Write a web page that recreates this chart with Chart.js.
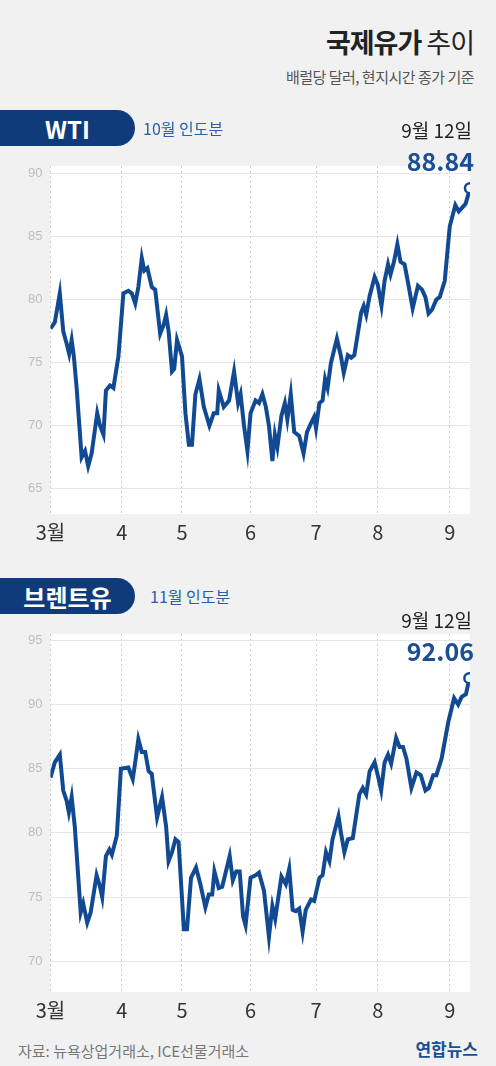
<!DOCTYPE html>
<html>
<head>
<meta charset="utf-8">
<script src="https://cdn.jsdelivr.net/npm/chart.js@4"></script>
<style>
body { margin: 0; width: 496px; height: 1066px; background: #f1f1f1; font-family: "Noto Sans CJK KR", "Noto Sans", sans-serif; overflow: hidden; }
.abs { position: absolute; z-index: 2; }
.chartBox { position: absolute; z-index: 1; }
.title { right: 22px; top: 22px; font-size: 27px; color: #222; letter-spacing: -1px; }
.title b { font-weight: 700; }
.title span { font-weight: 400; }
.sub { right: 22px; top: 66px; font-size: 15px; color: #555; letter-spacing: -0.5px; }
.badge { left: 0; width: 135px; height: 36px; background: #0f3b7a; color: #fff; font-weight: 700; font-size: 24px; border-radius: 0 18px 18px 0; display: flex; align-items: center; justify-content: center; }
.deliv { font-size: 16px; color: #2b5fa8; }
.date { right: 24px; font-size: 19px; color: #222; }
.val { right: 22px; font-size: 25px; font-weight: 700; color: #1a4f94; }
.foot { left: 18px; top: 1040px; font-size: 15px; color: #777; }
.logo { right: 18px; top: 1036px; font-size: 17px; font-weight: 700; color: #1a4f94; }
</style>
</head>
<body>
<div class="abs title"><b>국제유가</b> <span>추이</span></div>
<div class="abs sub">배럴당 달러, 현지시간 종가 기준</div>

<div class="abs badge" style="top:110px">WTI</div>
<div class="abs deliv" style="left:143px;top:116px">10월 인도분</div>
<div class="abs date" style="top:116px">9월 12일</div>
<div class="abs val" style="top:142px">88.84</div>
<div class="chartBox" style="left:0;top:150px;width:496px;height:400px"><canvas id="wtiChart"></canvas></div>

<div class="abs badge" style="top:578px">브렌트유</div>
<div class="abs deliv" style="left:150px;top:584px">11월 인도분</div>
<div class="abs date" style="top:606px">9월 12일</div>
<div class="abs val" style="top:632px">92.06</div>
<div class="chartBox" style="left:0;top:618px;width:496px;height:410px"><canvas id="brentChart"></canvas></div>

<div class="abs foot">자료: 뉴욕상업거래소, ICE선물거래소</div>
<div class="abs logo">연합뉴스</div>

<script>
// 거래일 인덱스 (3월 1일 = 0)
const monthLabels = ['3월', '4', '5', '6', '7', '8', '9'];
const monthTicks = [0, 22.9, 42.2, 64.2, 85.2, 105, 128.1];

const wtiDays = [0,1.4,3.0,4.1,5.2,6.0,6.8,7.5,8.4,10.0,11.1,12.1,13.2,15.0,15.9,17.0,17.8,19.1,20.2,21.8,23.4,25.0,26.1,27.2,28.2,29.3,30.1,31.1,32.5,33.6,35.2,36.3,37.1,37.9,39.0,39.7,40.6,42.2,43.3,44.4,45.4,46.5,47.8,49.2,51.0,52.4,53.5,54.0,55.6,57.3,58.9,60.2,61.0,62.1,63.2,64.2,65.8,66.9,68.0,69.1,70.1,71.2,72.0,72.8,74.1,75.2,76.0,77.1,78.2,79.8,81.2,82.3,83.6,84.6,85.2,86.3,87.3,88.1,88.9,90.0,91.9,93.2,94.1,95.4,96.5,97.5,99.7,100.5,101.3,102.4,104.0,105.0,106.2,107.2,108.3,109.1,110.2,111.3,112.3,113.6,114.6,116.2,117.9,119.2,120.3,121.3,122.4,123.8,124.9,126.5,128.1,129.9,131.0,132.1,133.2,134.6];
const wtiPrices = [77.7,78.2,80.5,77.5,76.5,75.7,76.8,75.5,73,67.5,68,66.8,67.8,71,70,69.3,72.8,73.2,73,75.5,80.5,80.7,80.5,79.7,81,83.3,82.3,82.5,81,80.8,77.3,78,78.8,77.5,74.3,74.5,76.8,75.5,71,68.5,68.5,72.5,73.7,71.5,70,71,71,72.8,71.5,72,74.3,71.8,72.5,70,68,71,72,71.8,72.5,71.5,70,67.2,69.3,68.3,70.8,71.8,70.5,72.5,69.5,69.2,67.8,69.5,70.2,70.7,69.8,71.8,72,73.7,73,75,76.9,75.5,74.2,75.6,75.4,75.6,79,79.5,78.8,80.3,81.8,81.2,79.5,81.5,82.8,82,83,84.4,83,82.8,81.5,79.3,81.1,80.8,80.2,78.9,79.2,80,80.2,81.5,85.8,87.5,87,87.3,87.6,88.84];

const brentDays = [0,1.4,3.0,4.1,5.2,5.9,6.8,7.8,9.7,10.5,11.8,12.9,14.8,15.9,16.6,17.8,18.9,19.7,21.3,22.6,25.0,26.4,27.2,28.2,29.3,30.4,31.5,32.5,34.2,35.8,37.1,37.9,39.0,40.1,41.1,42.8,43.8,45.1,46.7,48.1,49.7,50.8,51.9,52.6,54.0,55.1,57.5,58.5,59.6,60.7,61.8,62.6,64.2,65.8,66.9,68.5,70.1,71.2,72.1,74.1,75.5,76.6,77.7,78.7,79.8,80.9,81.9,83.6,84.6,86.3,87.3,88.4,89.5,90.5,92.4,93.2,94.3,95.4,97.0,99.1,100.2,101.3,102.4,104.0,105.0,106.1,107.2,108.3,109.3,110.9,112.0,113.1,114.2,115.8,117.4,118.8,120.3,121.4,122.8,123.8,125.5,127.6,129.5,130.8,131.9,133.3,134.4];
const brentPrices = [84.3,85.5,86.1,83.3,82.5,81.6,82.8,80.5,73.8,74.5,73,73.8,76.7,75.8,75,78.2,78.7,78.3,79.8,85,85.1,84.2,85.5,87.3,86.3,86.3,84.8,84.6,81.2,82.8,80.5,77.8,78.5,79.5,79.3,72.5,72.5,76.5,77.3,76,74.2,75.2,75.2,77,75.7,75.8,78.2,76.3,77,77,73.5,72.8,76.5,76.7,76.9,75.5,71.9,74.3,73.3,76.6,76,77.2,74,73.9,74.1,72.3,74,74.8,74.7,76.5,76.7,78.5,77.8,79.5,81.3,80,78.5,79.5,79.6,83,83.5,83,84.8,85.5,84.5,83.3,85.5,86.1,85.4,87.4,86.7,86.7,85.8,83.5,84.7,84.5,83.3,83.5,84.5,84.5,85.8,88.6,90.5,90,90.6,90.8,92.06];

const plotBg = {
    id: 'plotBg',
    beforeDraw(chart) {
        const { ctx, chartArea: a } = chart;
        ctx.save();
        ctx.fillStyle = '#ffffff';
        ctx.fillRect(a.left, a.top, a.right - a.left, a.bottom - a.top);
        ctx.restore();
    }
};

function makeChart(id, days, prices, yMin, yMax, yStep) {
    const points = days.map((d, i) => ({ x: d, y: prices[i] }));
    const last = points.length - 1;
    return new Chart(document.getElementById(id), {
        type: 'line',
        data: {
            datasets: [{
                data: points,
                borderColor: '#114a92',
                borderWidth: 4,
                tension: 0,
                pointRadius: ctx => ctx.dataIndex === last ? 5 : 0,
                pointBackgroundColor: '#ffffff',
                pointBorderColor: '#114a92',
                pointBorderWidth: 2.5
            }]
        },
        options: {
            responsive: true,
            maintainAspectRatio: false,
            animation: false,
            layout: { padding: { top: 16, right: 26, left: 20, bottom: 0 } },
            plugins: { legend: { display: false }, tooltip: { enabled: false } },
            scales: {
                x: {
                    type: 'linear',
                    min: 0,
                    max: 134.6,
                    afterBuildTicks: axis => { axis.ticks = monthTicks.map(v => ({ value: v })); },
                    ticks: {
                        callback: (v) => monthLabels[monthTicks.indexOf(v)],
                        color: '#333',
                        font: { size: 20, family: 'Noto Sans CJK KR' },
                        maxRotation: 0,
                        padding: 6
                    },
                    grid: { color: '#cfcfcf', drawTicks: false },
                    border: { display: false, dash: [2, 3] }
                },
                y: {
                    min: yMin,
                    max: yMax,
                    afterBuildTicks: axis => {
                        const t = [];
                        for (let v = Math.ceil(yMin / yStep) * yStep; v <= yMax; v += yStep) t.push({ value: v });
                        axis.ticks = t;
                    },
                    ticks: { color: '#bdbdbd', font: { size: 13 }, padding: 8 },
                    grid: { color: '#e6e6e6', drawTicks: false },
                    border: { display: false }
                }
            }
        },
        plugins: [plotBg]
    });
}

document.addEventListener('DOMContentLoaded', () => {
    makeChart('wtiChart', wtiDays, wtiPrices, 63, 90.6, 5);
    makeChart('brentChart', brentDays, brentPrices, 67.6, 95.5, 5);
});
</script>
</body>
</html>
